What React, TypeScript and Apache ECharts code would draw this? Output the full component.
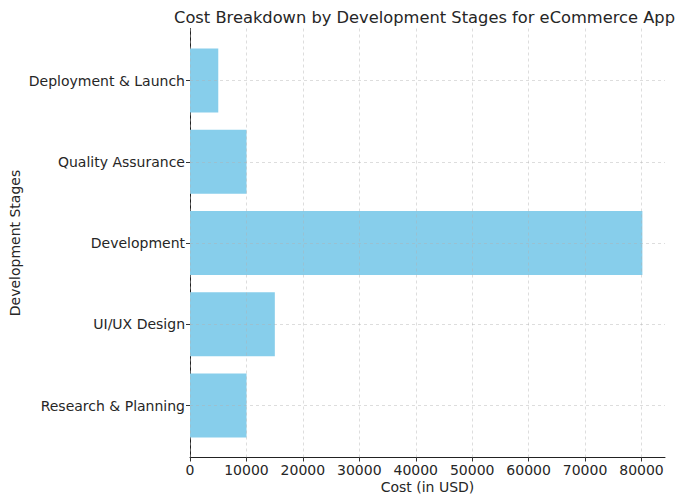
import React, { useEffect, useRef } from "react";
import * as echarts from "echarts";

const categories = [
  "Research & Planning",
  "UI/UX Design",
  "Development",
  "Quality Assurance",
  "Deployment & Launch",
];
const costs = [10000, 15000, 80000, 10000, 5000];
const xTicksMax = 80000;
const xAxisMax = 84000;

const FONT = "DejaVu Sans";
const TEXT = "#262626";
const FS = 14;

export default function App() {
  const ref = useRef<HTMLDivElement>(null);
  useEffect(() => {
    if (!ref.current) return;
    const chart = echarts.init(ref.current, null, { renderer: "svg" });
    const gridColor = "rgba(176,176,176,0.55)";
    chart.setOption({
      animation: false,
      backgroundColor: "#fff",
      textStyle: { fontFamily: FONT, color: TEXT },
      title: {
        text: "Cost Breakdown by Development Stages for eCommerce App",
        left: 419.5,
        top: 4,
        textAlign: "center",
        textStyle: { fontFamily: FONT, fontSize: 16.3, fontWeight: "normal", color: TEXT },
      },
      grid: [
        { left: 190, right: 25, top: 80.5, bottom: 97.5 },
        { left: 190, right: 690 - 641.5, top: 28.5, bottom: 503 - 457.5 },
        { left: 190, right: 25, top: 28.5, bottom: 503 - 457.5 },
      ],
      xAxis: [
        {
          gridIndex: 0,
          type: "value",
          min: 0,
          max: xAxisMax,
          show: false,
        },
        {
          gridIndex: 1,
          type: "value",
          min: 0,
          max: xTicksMax,
          interval: 10000,
          z: 3,
          axisLine: { show: false },
          axisTick: { show: true, length: 4, lineStyle: { color: "#333" } },
          axisLabel: {
            fontFamily: FONT,
            fontSize: FS,
            color: TEXT,
            margin: 5,
            formatter: (v: number) => String(v),
          },
          splitLine: { show: true, lineStyle: { color: gridColor, type: [3, 3], width: 0.8 } },
        },
        {
          gridIndex: 2,
          type: "value",
          min: 0,
          max: xAxisMax,
          axisLine: { show: true, lineStyle: { color: "#222", width: 1 } },
          axisTick: { show: false },
          axisLabel: { show: false },
          splitLine: { show: false },
          name: "Cost (in USD)",
          nameLocation: "middle",
          nameGap: 22,
          nameTextStyle: { fontFamily: FONT, fontSize: FS, color: TEXT },
        },
      ],
      yAxis: [
        {
          gridIndex: 0,
          type: "category",
          data: categories,
          boundaryGap: false,
          z: 3,
          axisLine: { show: false },
          axisTick: { show: true, length: 4, lineStyle: { color: "#333" } },
          axisLabel: { fontFamily: FONT, fontSize: FS, color: TEXT, margin: 5 },
          splitLine: { show: true, interval: 0, lineStyle: { color: gridColor, type: [3, 3], width: 0.8 } },
        },
        {
          gridIndex: 1,
          type: "value",
          axisLine: { show: false },
          axisTick: { show: false },
          axisLabel: { show: false },
          splitLine: { show: false },
        },
        {
          gridIndex: 2,
          type: "value",
          axisLine: { show: true, onZero: false, lineStyle: { color: "#222", width: 1 } },
          axisTick: { show: false },
          axisLabel: { show: false },
          splitLine: { show: false },
        },
      ],
      graphic: [
        {
          type: "text",
          x: 15,
          y: 243,
          rotation: Math.PI / 2,
          style: {
            text: "Development Stages",
            fontFamily: FONT,
            fontSize: FS,
            fill: TEXT,
            align: "center",
            verticalAlign: "middle",
          },
        },
      ],
      series: [
        {
          type: "bar",
          xAxisIndex: 0,
          yAxisIndex: 0,
          data: costs,
          barWidth: 64,
          clip: false,
          itemStyle: { color: "#87CEEB" },
        },
      ],
    });
    return () => chart.dispose();
  }, []);
  return <div ref={ref} style={{ width: 690, height: 503, margin: -8 }} />;
}
